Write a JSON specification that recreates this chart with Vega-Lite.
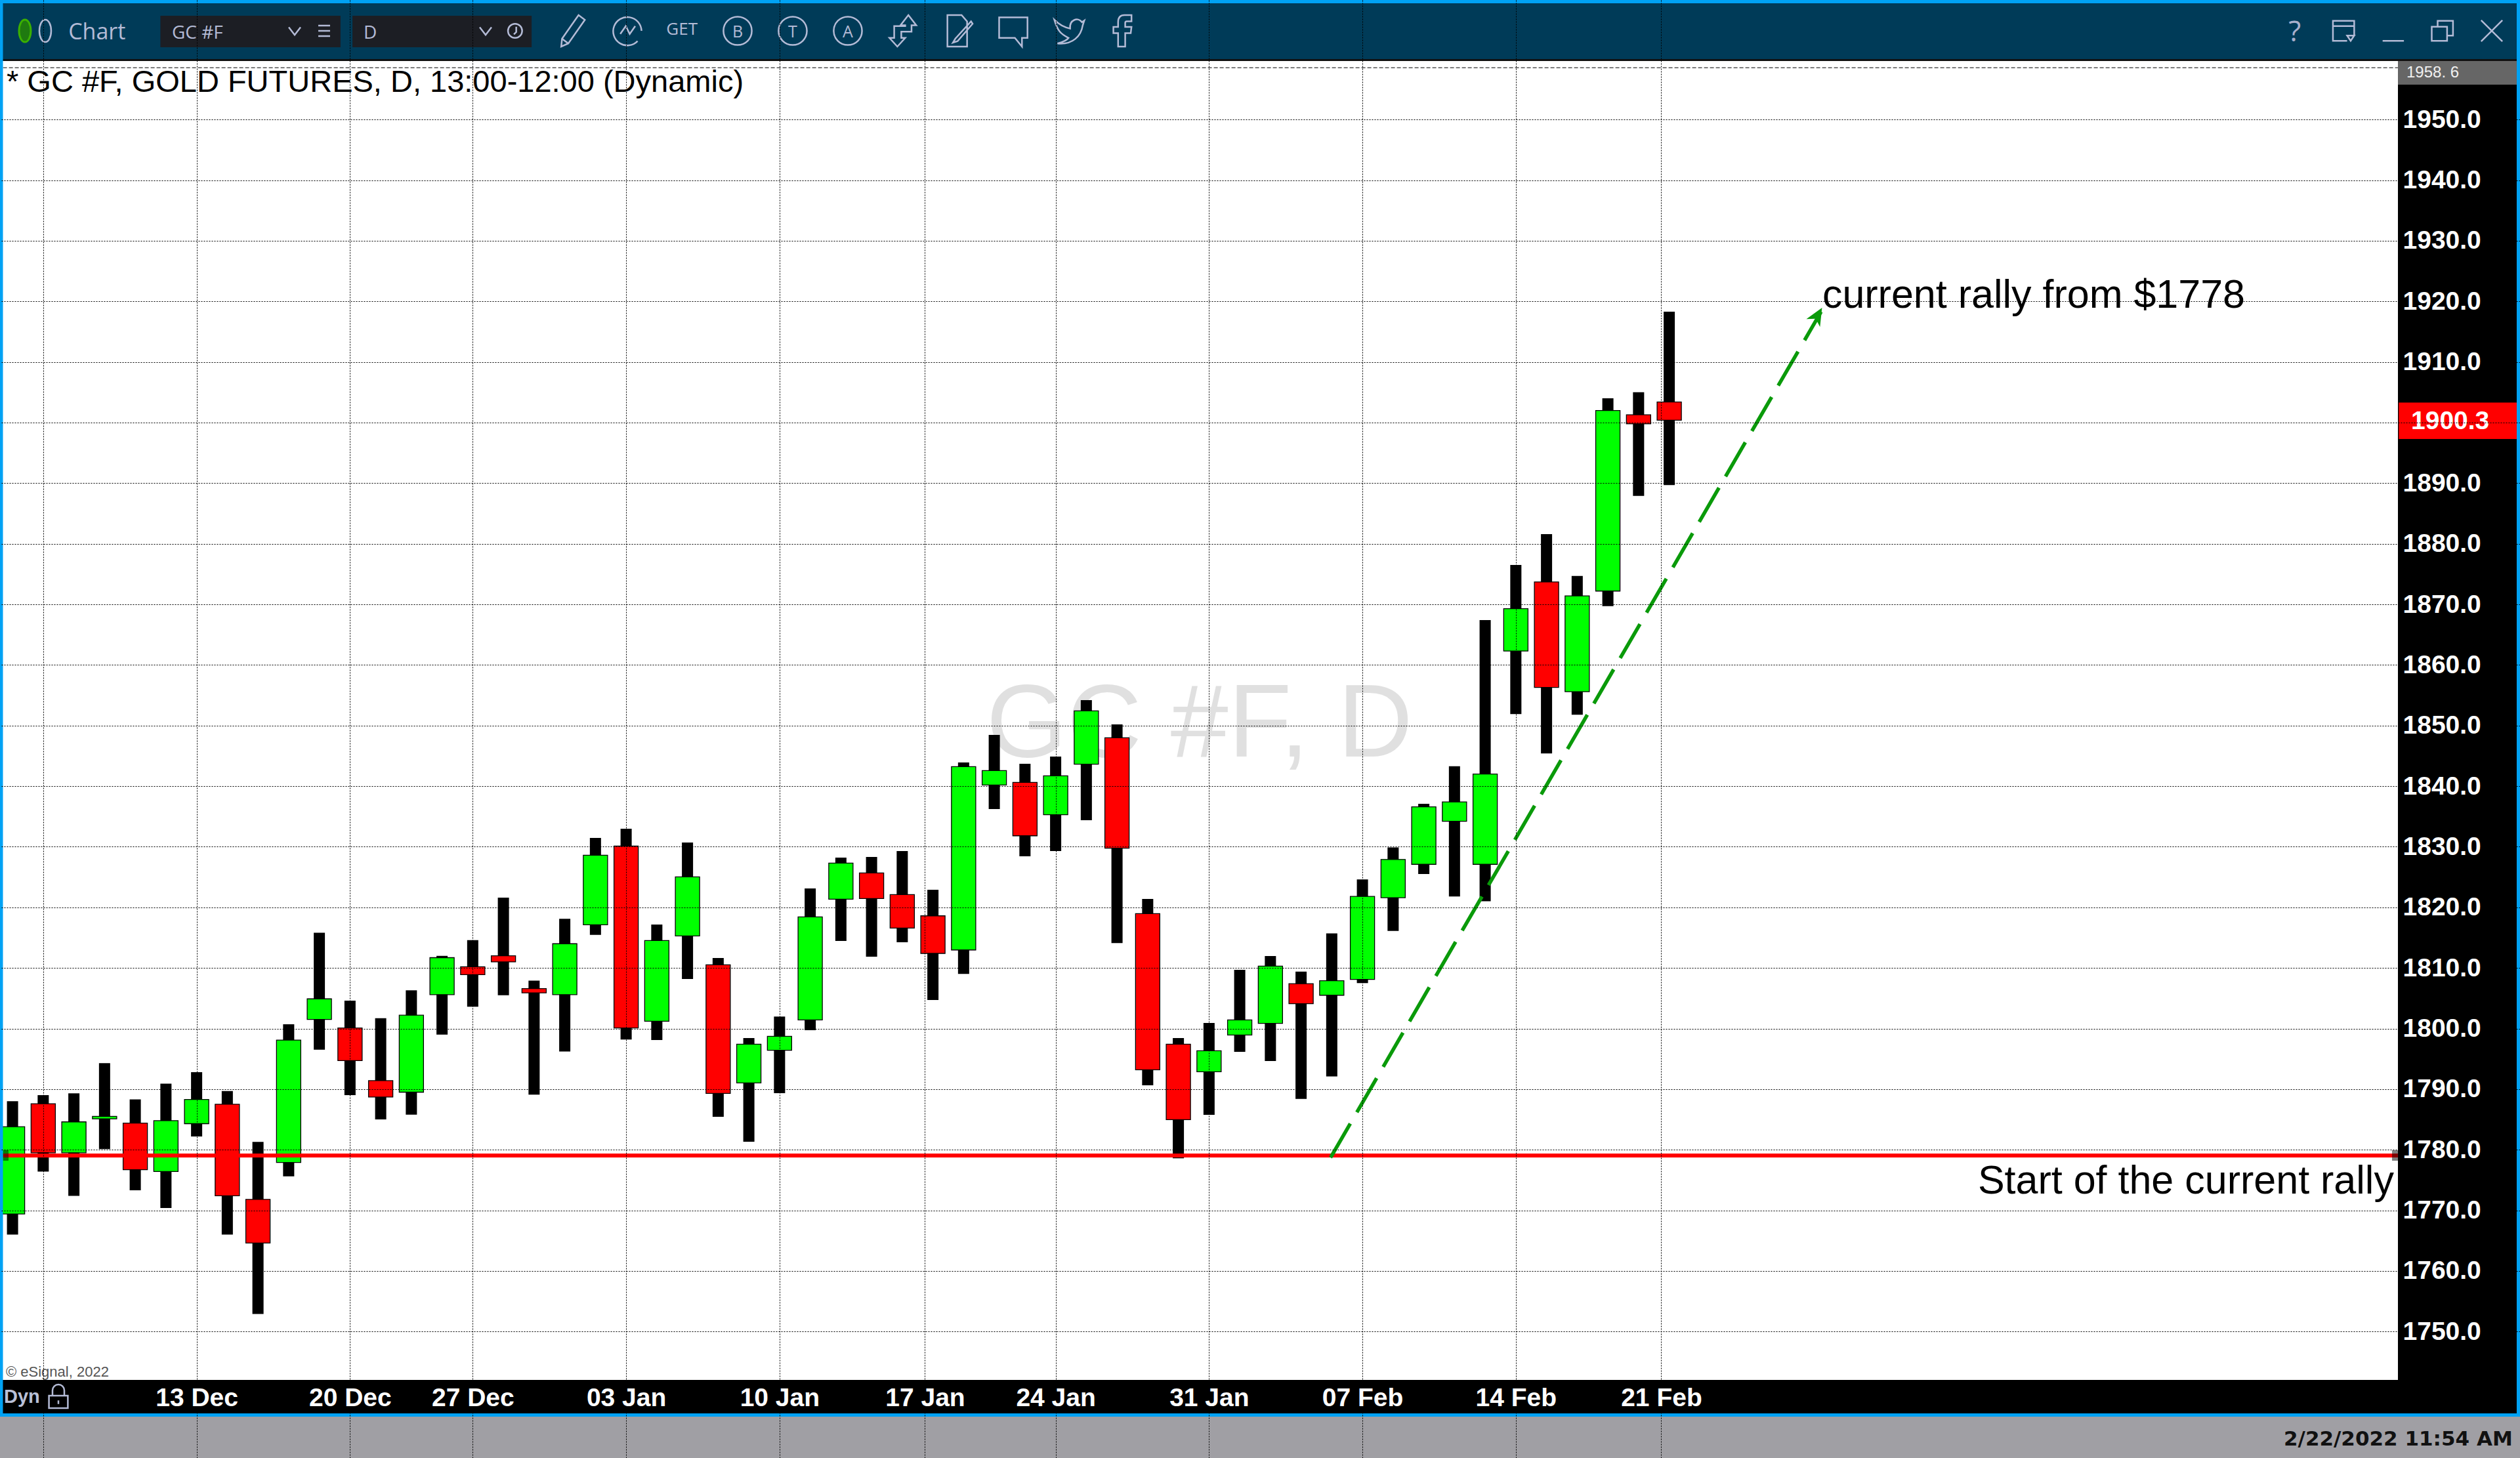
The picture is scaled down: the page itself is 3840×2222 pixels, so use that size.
{
"$schema":"https://vega.github.io/schema/vega-lite/v6.json",
"width":3840,"height":2222,"padding":0,"autosize":{"type":"none"},
"background":"#ffffff",
"config":{"view":{"stroke":null},"text":{"font":"Liberation Sans"}},
"datasets":{"candles":[
{"date":"2021-12-03","session":0,"open":1769.4,"high":1788.0,"low":1766.0,"close":1783.8,"dir":"up"},
{"date":"2021-12-06","session":1,"open":1787.6,"high":1789.0,"low":1776.4,"close":1779.5,"dir":"down"},
{"date":"2021-12-07","session":2,"open":1779.5,"high":1789.3,"low":1772.4,"close":1784.6,"dir":"up"},
{"date":"2021-12-08","session":3,"open":1785.1,"high":1794.3,"low":1780.1,"close":1785.5,"dir":"up"},
{"date":"2021-12-09","session":4,"open":1784.4,"high":1788.3,"low":1773.3,"close":1776.7,"dir":"down"},
{"date":"2021-12-10","session":5,"open":1776.4,"high":1790.9,"low":1770.4,"close":1784.8,"dir":"up"},
{"date":"2021-12-13","session":6,"open":1784.3,"high":1792.8,"low":1782.2,"close":1788.3,"dir":"up"},
{"date":"2021-12-14","session":7,"open":1787.5,"high":1789.7,"low":1766.0,"close":1772.4,"dir":"down"},
{"date":"2021-12-15","session":8,"open":1771.8,"high":1781.3,"low":1752.9,"close":1764.6,"dir":"down"},
{"date":"2021-12-16","session":9,"open":1777.9,"high":1800.7,"low":1775.6,"close":1798.1,"dir":"up"},
{"date":"2021-12-17","session":10,"open":1801.5,"high":1815.8,"low":1796.5,"close":1804.9,"dir":"up"},
{"date":"2021-12-20","session":11,"open":1800.1,"high":1804.6,"low":1789.0,"close":1794.7,"dir":"down"},
{"date":"2021-12-21","session":12,"open":1791.4,"high":1801.7,"low":1785.0,"close":1788.7,"dir":"down"},
{"date":"2021-12-22","session":13,"open":1789.5,"high":1806.3,"low":1785.8,"close":1802.2,"dir":"up"},
{"date":"2021-12-23","session":14,"open":1805.6,"high":1812.0,"low":1799.0,"close":1811.7,"dir":"up"},
{"date":"2021-12-27","session":15,"open":1810.2,"high":1814.6,"low":1803.6,"close":1808.9,"dir":"down"},
{"date":"2021-12-28","session":16,"open":1812.0,"high":1821.6,"low":1805.5,"close":1811.0,"dir":"down"},
{"date":"2021-12-29","session":17,"open":1806.6,"high":1807.9,"low":1789.1,"close":1805.9,"dir":"down"},
{"date":"2021-12-30","session":18,"open":1805.6,"high":1818.1,"low":1796.2,"close":1814.0,"dir":"up"},
{"date":"2021-12-31","session":19,"open":1817.13,"high":1831.46,"low":1815.47,"close":1828.6,"dir":"up"},
{"date":"2022-01-03","session":20,"open":1830.13,"high":1832.98,"low":1798.2,"close":1800.09,"dir":"down"},
{"date":"2022-01-04","session":21,"open":1801.21,"high":1817.17,"low":1798.1,"close":1814.53,"dir":"up"},
{"date":"2022-01-05","session":22,"open":1815.29,"high":1830.7,"low":1808.18,"close":1825.04,"dir":"up"},
{"date":"2022-01-06","session":23,"open":1810.52,"high":1811.64,"low":1785.44,"close":1789.29,"dir":"down"},
{"date":"2022-01-07","session":24,"open":1791.03,"high":1798.43,"low":1781.32,"close":1797.42,"dir":"up"},
{"date":"2022-01-10","session":25,"open":1796.41,"high":1801.98,"low":1789.33,"close":1798.72,"dir":"up"},
{"date":"2022-01-11","session":26,"open":1801.43,"high":1823.12,"low":1799.73,"close":1818.43,"dir":"up"},
{"date":"2022-01-12","session":27,"open":1821.35,"high":1828.21,"low":1814.46,"close":1827.31,"dir":"up"},
{"date":"2022-01-13","session":28,"open":1825.69,"high":1828.32,"low":1811.86,"close":1821.46,"dir":"down"},
{"date":"2022-01-14","session":29,"open":1822.11,"high":1829.3,"low":1814.24,"close":1816.59,"dir":"down"},
{"date":"2022-01-18","session":30,"open":1818.6,"high":1822.9,"low":1804.7,"close":1812.4,"dir":"down"},
{"date":"2022-01-19","session":31,"open":1812.97,"high":1843.91,"low":1809.03,"close":1843.22,"dir":"up"},
{"date":"2022-01-20","session":32,"open":1840.19,"high":1848.46,"low":1836.22,"close":1842.57,"dir":"up"},
{"date":"2022-01-21","session":33,"open":1840.62,"high":1843.69,"low":1828.42,"close":1831.81,"dir":"down"},
{"date":"2022-01-24","session":34,"open":1835.28,"high":1844.88,"low":1829.29,"close":1841.7,"dir":"up"},
{"date":"2022-01-25","session":35,"open":1843.62,"high":1854.2,"low":1834.38,"close":1852.43,"dir":"up"},
{"date":"2022-01-26","session":36,"open":1847.99,"high":1850.19,"low":1814.12,"close":1829.76,"dir":"down"},
{"date":"2022-01-27","session":37,"open":1818.97,"high":1821.39,"low":1790.63,"close":1793.2,"dir":"down"},
{"date":"2022-01-28","session":38,"open":1797.42,"high":1798.43,"low":1778.6,"close":1784.97,"dir":"down"},
{"date":"2022-01-31","session":39,"open":1792.87,"high":1800.92,"low":1785.76,"close":1796.34,"dir":"up"},
{"date":"2022-02-01","session":40,"open":1798.94,"high":1809.69,"low":1796.16,"close":1801.43,"dir":"up"},
{"date":"2022-02-02","session":41,"open":1800.85,"high":1811.97,"low":1794.64,"close":1810.31,"dir":"up"},
{"date":"2022-02-03","session":42,"open":1807.4,"high":1809.4,"low":1788.4,"close":1804.1,"dir":"down"},
{"date":"2022-02-04","session":43,"open":1805.5,"high":1815.7,"low":1792.1,"close":1807.9,"dir":"up"},
{"date":"2022-02-07","session":44,"open":1808.1,"high":1824.6,"low":1807.5,"close":1821.8,"dir":"up"},
{"date":"2022-02-08","session":45,"open":1821.6,"high":1829.9,"low":1816.1,"close":1827.9,"dir":"up"},
{"date":"2022-02-09","session":46,"open":1827.1,"high":1837.1,"low":1825.5,"close":1836.6,"dir":"up"},
{"date":"2022-02-10","session":47,"open":1834.2,"high":1843.3,"low":1821.8,"close":1837.4,"dir":"up"},
{"date":"2022-02-11","session":48,"open":1827.1,"high":1867.4,"low":1821.0,"close":1842.0,"dir":"up"},
{"date":"2022-02-14","session":49,"open":1862.3,"high":1876.5,"low":1851.9,"close":1869.3,"dir":"up"},
{"date":"2022-02-15","session":50,"open":1873.7,"high":1881.6,"low":1845.4,"close":1856.3,"dir":"down"},
{"date":"2022-02-16","session":51,"open":1855.6,"high":1874.7,"low":1851.8,"close":1871.4,"dir":"up"},
{"date":"2022-02-17","session":52,"open":1872.2,"high":1904.0,"low":1869.7,"close":1902.0,"dir":"up"},
{"date":"2022-02-18","session":53,"open":1901.3,"high":1905.0,"low":1887.9,"close":1899.8,"dir":"down"},
{"date":"2022-02-22","session":54,"open":1903.4,"high":1918.3,"low":1889.7,"close":1900.4,"dir":"down"}
]},
"data":{"name":"candles"},
"layer":[
{"encoding":{
"x":{"field":"session","type":"quantitative","scale":{"domain":[-0.40856,81.7305],"nice":false,"zero":false,"padding":0},
 "axis":{"orient":"bottom","offset":-119,"title":null,"values":[1,6,11,15,20,25,29.74,34,39,44,49,53.74],
 "labelExpr":"{'1':'','6':'13 Dec','11':'20 Dec','15':'27 Dec','20':'03 Jan','25':'10 Jan','29.74':'17 Jan','34':'24 Jan','39':'31 Jan','44':'07 Feb','49':'14 Feb','53.74':'21 Feb'}[''+datum.value]",
 "domain":false,"ticks":false,"grid":true,"gridColor":"#000000","gridDash":[2,2],"gridWidth":1,"zindex":1,
 "labelColor":"#ffffff","labelFont":"Liberation Sans","labelFontWeight":"bold","labelFontSize":39,"labelPadding":27,"labelBaseline":"middle","labelAlign":"center","labelOverlap":false,"labelBound":false,"labelFlush":false}},
"y":{"field":"price","type":"quantitative","scale":{"domain":[1729.13,1969.74],"nice":false,"zero":false,"padding":0},
 "axis":{"orient":"right","offset":-186,"title":null,"values":[1750,1760,1770,1780,1790,1800,1810,1820,1830,1840,1850,1860,1870,1880,1890,1900,1910,1920,1930,1940,1950],
 "labelExpr":"datum.value == 1900 ? '' : format(datum.value, '.1f')",
 "domain":false,"ticks":false,"grid":true,"gridColor":"#000000","gridDash":[2,2],"gridWidth":1,"zindex":1,
 "labelColor":"#ffffff","labelFont":"Liberation Sans","labelFontWeight":"bold","labelFontSize":39,"labelPadding":7,"labelBaseline":"middle","labelAlign":"left","labelOverlap":false,"labelBound":false,"labelFlush":false}}
},
"layer":[
{"data":{"values":[{"label":"GC #F, D","session":31.74,"price":1844.89}]},
 "mark":{"type":"text","align":"left","baseline":"alphabetic","fontSize":158,"color":"#e0e0e0"},
 "encoding":{"text":{"field":"label"}}},
{"mark":{"type":"rule","color":"#000000","strokeWidth":17,"strokeCap":"butt"},
 "encoding":{"y":{"field":"low","type":"quantitative"},"y2":{"field":"high"}}},
{"mark":{"type":"bar","size":37,"stroke":"#000000","strokeWidth":1.3,"opacity":1},
 "encoding":{"y":{"field":"open","type":"quantitative"},"y2":{"field":"close"},
 "color":{"field":"dir","type":"nominal","scale":{"domain":["up","down"],"range":["#00ff00","#ff0000"]},"legend":null}}},
{"data":{"values":[{"session":-0.31,"price":1779.04},{"session":77.75,"price":1779.04}]},
 "mark":{"type":"line","color":"#ff0000","strokeWidth":6,"strokeCap":"butt"},"encoding":{}},
{"data":{"values":[{"session":42.96,"price":1778.7},{"session":58.95,"price":1918.3}]},
 "mark":{"type":"line","color":"#0a9a0a","strokeWidth":5.5,"strokeDash":[60,20],"strokeCap":"butt"},"encoding":{}},
{"data":{"values":[{"session":58.82,"price":1917.55}]},
 "mark":{"type":"point","shape":"M0,-1L0.8,0.8L0,0.3L-0.8,0.8Z","filled":true,"size":900,"angle":30,"color":"#0a9a0a","opacity":1},"encoding":{}},
{"data":{"values":[{"label":"current rally from $1778","session":58.99,"price":1918.92},{"label":"Start of the current rally","session":64.06,"price":1772.8}]},
 "mark":{"type":"text","align":"left","baseline":"alphabetic","fontSize":61,"color":"#000000"},
 "encoding":{"text":{"field":"label"}}},
{"data":{"values":[{"label":"* GC #F, GOLD FUTURES, D, 13:00-12:00 (Dynamic)","session":-0.195,"price":1954.58}]},
 "mark":{"type":"text","align":"left","baseline":"alphabetic","fontSize":47,"color":"#000000"},
 "encoding":{"text":{"field":"label"}}},
{"data":{"values":[{"label":"© eSignal, 2022","session":-0.216,"price":1742.56}]},
 "mark":{"type":"text","align":"left","baseline":"alphabetic","fontSize":22,"color":"#555555"},
 "encoding":{"text":{"field":"label"}}}
]},
{"data":{"values":[{"k":1}]},
"layer":[
{"mark":{"type":"rect","color":"#000000","opacity":0.5},
 "encoding":{"x":{"datum":-0.3123},"x2":{"datum":-0.1305},"y":{"datum":1779.92},"y2":{"datum":1778.19}}},
{"mark":{"type":"rect","color":"#000000","opacity":0.5},
 "encoding":{"x":{"datum":77.56},"x2":{"datum":77.752},"y":{"datum":1779.92},"y2":{"datum":1778.19}}},
{"mark":{"type":"rule","color":"#555555","strokeWidth":1.5,"strokeDash":[6,3]},
 "encoding":{"x":{"datum":-0.31},"x2":{"datum":77.75},"y":{"datum":1958.55}}},
{"mark":{"type":"rect","color":"#003b58","opacity":1},
 "encoding":{"x":{"datum":-0.40856},"x2":{"datum":81.7305},"y":{"datum":1969.74},"y2":{"datum":1960.0}}},
{"mark":{"type":"rect","color":"#111111","opacity":1},
 "encoding":{"x":{"datum":-0.40856},"x2":{"datum":81.7305},"y":{"datum":1960.0},"y2":{"datum":1959.67}}},
{"mark":{"type":"rect","color":"#1c1e24","opacity":1},
 "encoding":{"x":{"datum":4.82},"x2":{"datum":10.69},"y":{"datum":1967.14},"y2":{"datum":1961.94}}},
{"mark":{"type":"rect","color":"#1c1e24","opacity":1},
 "encoding":{"x":{"datum":11.08},"x2":{"datum":16.92},"y":{"datum":1967.14},"y2":{"datum":1961.94}}},
{"mark":{"type":"rect","color":"#000000","opacity":1},
 "encoding":{"x":{"datum":77.752},"x2":{"datum":81.7305},"y":{"datum":1959.67},"y2":{"datum":1736.5}}},
{"mark":{"type":"rect","color":"#000000","opacity":1},
 "encoding":{"x":{"datum":-0.40856},"x2":{"datum":81.7305},"y":{"datum":1742.02},"y2":{"datum":1736.5}}},
{"mark":{"type":"rect","color":"#a09fa4","opacity":1},
 "encoding":{"x":{"datum":-0.40856},"x2":{"datum":81.7305},"y":{"datum":1735.96},"y2":{"datum":1729.13}}},
{"mark":{"type":"rect","color":"#00a2f4","opacity":1},
 "encoding":{"x":{"datum":-0.40856},"x2":{"datum":81.7305},"y":{"datum":1736.5},"y2":{"datum":1735.96}}},
{"mark":{"type":"rect","color":"#00a2f4","opacity":1},
 "encoding":{"x":{"datum":-0.40856},"x2":{"datum":81.7305},"y":{"datum":1969.74},"y2":{"datum":1969.2}}},
{"mark":{"type":"rect","color":"#00a2f4","opacity":1},
 "encoding":{"x":{"datum":-0.40856},"x2":{"datum":-0.3123},"y":{"datum":1969.74},"y2":{"datum":1735.96}}},
{"mark":{"type":"rect","color":"#00a2f4","opacity":1},
 "encoding":{"x":{"datum":81.623},"x2":{"datum":81.7305},"y":{"datum":1969.74},"y2":{"datum":1735.96}}},
{"mark":{"type":"rect","color":"#666666","opacity":1},
 "encoding":{"x":{"datum":77.752},"x2":{"datum":81.623},"y":{"datum":1959.67},"y2":{"datum":1955.78}}},
{"mark":{"type":"rect","color":"#ff0000","opacity":1},
 "encoding":{"x":{"datum":77.78},"x2":{"datum":81.623},"y":{"datum":1903.3},"y2":{"datum":1897.3}}}
]},
{"encoding":{"x":{"field":"session","type":"quantitative"},"y":{"field":"price","type":"quantitative"}},
"resolve":{"scale":{"shape":"independent"}},
"layer":[
{"data":{"values":[{"label":"1958. 6","session":78.03,"price":1957.72}]},
 "mark":{"type":"text","align":"left","baseline":"middle","fontSize":24,"color":"#f0f0f0"},
 "encoding":{"text":{"field":"label"}}},
{"data":{"values":[{"label":"1900.3","session":78.18,"price":1900.25}]},
 "mark":{"type":"text","align":"left","baseline":"middle","fontSize":39,"fontWeight":"bold","color":"#ffffff"},
 "encoding":{"text":{"field":"label"}}},
{"data":{"values":[{"label":"2/22/2022 11:54 AM","session":81.49,"price":1731.22}]},
 "mark":{"type":"text","align":"right","baseline":"alphabetic","font":"DejaVu Sans","fontSize":31,"fontWeight":"bold","color":"#111111"},
 "encoding":{"text":{"field":"label"}}},
{"data":{"values":[{"label":"Dyn","session":-0.28,"price":1738.23}]},
 "mark":{"type":"text","align":"left","baseline":"alphabetic","fontSize":29,"fontWeight":"bold","color":"#b9c0d8"},
 "encoding":{"text":{"field":"label"}}},
{"data":{"values":[{"label":"Chart","session":1.82,"price":1963.24}]},
 "mark":{"type":"text","align":"left","baseline":"alphabetic","font":"Open Sans","fontSize":34,"color":"#b4bbd6"},
 "encoding":{"text":{"field":"label"}}},
{"data":{"values":[{"label":"GC #F","session":5.196,"price":1963.3},{"label":"D","session":11.44,"price":1963.3}]},
 "mark":{"type":"text","align":"left","baseline":"alphabetic","font":"Open Sans","fontSize":28,"color":"#b4bbd6"},
 "encoding":{"text":{"field":"label"}}},
{"data":{"values":[{"label":"GET","session":21.82,"price":1964.0}]},
 "mark":{"type":"text","align":"center","baseline":"alphabetic","font":"Open Sans","fontSize":26,"color":"#b4bbd6"},
 "encoding":{"text":{"field":"label"}}},
{"data":{"values":[{"label":"B","session":23.634,"price":1963.55},{"label":"T","session":25.43,"price":1963.55},{"label":"A","session":27.227,"price":1963.55}]},
 "mark":{"type":"text","align":"center","baseline":"alphabetic","font":"Open Sans","fontSize":25,"color":"#b4bbd6"},
 "encoding":{"text":{"field":"label"}}},
{"data":{"values":[{"label":"?","session":74.39,"price":1962.9}]},
 "mark":{"type":"text","align":"center","baseline":"alphabetic","font":"Open Sans","fontSize":44,"color":"#a9b0cc"},
 "encoding":{"text":{"field":"label"}}},
{"data":{"values":[
 {"icon":"pencil","session":18.244,"price":1964.65},{"icon":"chart","session":20.04,"price":1964.65},
 {"icon":"ring","session":23.634,"price":1964.65},{"icon":"ring","session":25.43,"price":1964.65},{"icon":"ring","session":27.227,"price":1964.65},
 {"icon":"arrows","session":29.02,"price":1964.65},{"icon":"note","session":30.78,"price":1964.65},{"icon":"speech","session":32.62,"price":1964.65},
 {"icon":"twitter","session":34.42,"price":1964.65},{"icon":"facebook","session":36.19,"price":1964.65}]},
 "mark":{"type":"point","filled":false,"size":2304,"stroke":"#b4bbd6","strokeWidth":2.5,"opacity":1},
 "encoding":{"shape":{"field":"icon","type":"nominal","legend":null,"scale":{"domain":["pencil","chart","ring","arrows","note","speech","twitter","facebook"],"range":[
  "M-0.7,1L-0.65,0.5L0.4,-1L0.8,-0.7L-0.25,0.8ZM-0.65,0.5L-0.25,0.8",
  "M0.65,0.65A0.9,0.9 0 1 1 0.9,0M-0.45,0.2L-0.1,-0.3L0.15,0.2L0.5,-0.3",
  "M0.9,0A0.9,0.9 0 1 1 -0.9,0A0.9,0.9 0 1 1 0.9,0Z",
  "M0.35,-1L0.85,-0.35L0.55,-0.35L0.55,0.05L-0.1,0.05L-0.1,0.45L0.15,0.45L-0.35,1L-0.85,0.45L-0.55,0.45L-0.55,-0.3L0.15,-0.3L0.15,-0.35L-0.15,-0.35Z",
  "M-0.6,-1L0.3,-1L0.65,-0.6L0.65,1L-0.6,1ZM0.9,-0.6L-0.1,0.5L-0.25,0.75L0.05,0.65L1,-0.45Z",
  "M-0.9,-0.85L0.9,-0.85L0.9,0.45L0.55,0.45L0.55,1L0.1,0.45L-0.9,0.45Z",
  "M-0.9,-0.7C-0.5,-0.3 -0.2,-0.2 0.1,-0.15C0.05,-0.7 0.6,-0.9 0.85,-0.55L1,-0.65L0.9,-0.35C0.8,0.3 0.3,0.9 -0.7,0.8C-0.3,0.7 -0.1,0.6 0,0.45C-0.5,0.2 -0.7,0 -0.9,-0.7Z",
  "M0.55,-1L0.1,-1Q-0.3,-1 -0.3,-0.55L-0.3,-0.25L-0.6,-0.25L-0.6,0.15L-0.3,0.15L-0.3,1L0.15,1L0.15,0.15L0.5,0.15L0.55,-0.25L0.15,-0.25L0.15,-0.5Q0.15,-0.6 0.25,-0.6L0.55,-0.6Z"
 ]}}}},
{"data":{"values":[
 {"icon":"ovalB","session":1.067,"price":1964.65},{"icon":"chev","session":9.196,"price":1964.65},{"icon":"menu","session":10.158,"price":1964.65},
 {"icon":"chev","session":15.42,"price":1964.65},{"icon":"clock","session":16.38,"price":1964.65},
 {"icon":"window","session":75.98,"price":1964.65},{"icon":"min","session":77.6,"price":1964.65},{"icon":"restore","session":79.2,"price":1964.65},{"icon":"close","session":80.81,"price":1964.65},
 {"icon":"lock","session":1.495,"price":1739.31}]},
 "mark":{"type":"point","filled":false,"size":1296,"stroke":"#b4bbd6","strokeWidth":2.5,"opacity":1},
 "encoding":{"shape":{"field":"icon","type":"nominal","legend":null,"scale":{"domain":["ovalB","chev","menu","clock","window","min","restore","close","lock"],"range":[
  "M0,-0.95A0.5,0.95 0 1 1 0,0.95A0.5,0.95 0 1 1 0,-0.95Z",
  "M-0.5,-0.3L0,0.35L0.5,-0.3",
  "M-0.5,-0.45L0.5,-0.45M-0.5,0L0.5,0M-0.5,0.45L0.5,0.45",
  "M0.6,0A0.6,0.6 0 1 1 -0.6,0A0.6,0.6 0 1 1 0.6,0ZM0.1,-0.35L0.1,0.1L-0.1,0.3",
  "M0.9,0.4L0.9,-0.85L-0.9,-0.85L-0.9,0.85L0.3,0.85M-0.9,-0.4L0.9,-0.4M0.3,0.4L0.9,0.4L0.6,0.85Z",
  "M-0.9,0.85L0.9,0.85",
  "M-0.4,-0.35L-0.4,-0.85L0.9,-0.85L0.9,0.4L0.4,0.4M-0.9,-0.35L0.4,-0.35L0.4,0.85L-0.9,0.85Z",
  "M-0.9,-0.9L0.9,0.9M-0.9,0.9L0.9,-0.9",
  "M-0.8,-0.05L0.8,-0.05L0.8,1L-0.8,1ZM-0.5,-0.05L-0.5,-0.5A0.5,0.5 0 0 1 0.5,-0.5L0.5,-0.05M0,0.35L0,0.65"
 ]}}}},
{"data":{"values":[{"session":0.404,"price":1964.65}]},
 "mark":{"type":"point","shape":"M0,-0.95A0.5,0.95 0 1 1 0,0.95A0.5,0.95 0 1 1 0,-0.95Z","filled":true,"size":1296,"fill":"#1f7a10","stroke":"#3bb000","strokeWidth":3,"opacity":1},"encoding":{}}
]}
]
}
